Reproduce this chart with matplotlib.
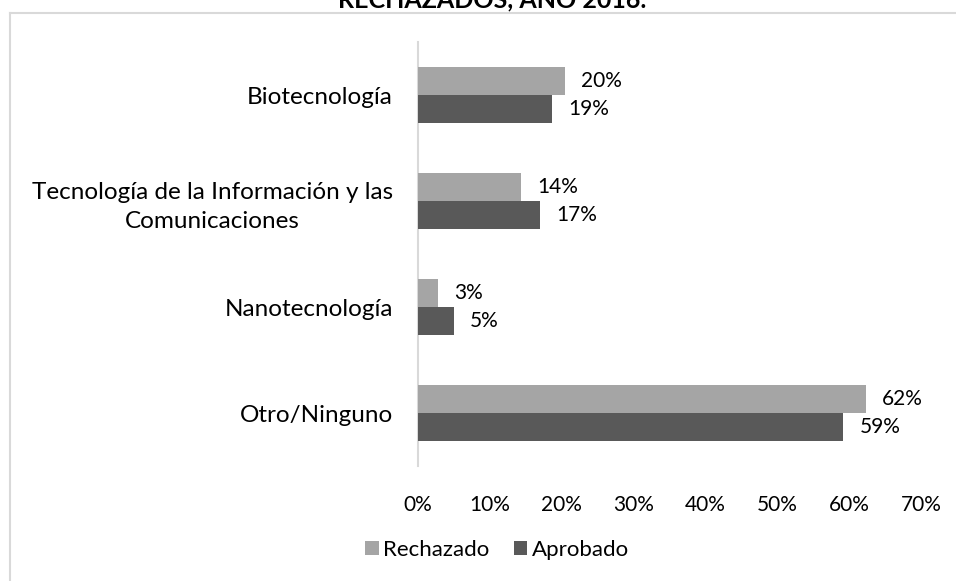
import matplotlib
matplotlib.use('Agg')
import matplotlib.pyplot as plt
from matplotlib.patches import Patch
from matplotlib.lines import Line2D

# ── 資料 ──
categories = ['Biotecnología',
              'Tecnología de la Información y las\nComunicaciones',
              'Nanotecnología',
              'Otro/Ninguno']
rechazado = [20.4, 14.4, 2.8, 62.3]
aprobado  = [18.7, 17.0, 5.0, 59.2]
series_names = ['Rechazado', 'Aprobado']
xticks = [0, 10, 20, 30, 40, 50, 60, 70]
title_tail = 'RECHAZADOS, AÑO 2016.'

# ── 樣式 ──
C_RECH = '#A5A5A5'
C_APRO = '#595959'
BORDER = '#D9D9D9'
plt.rcParams['font.family'] = ['Lato', 'DejaVu Sans']

W, H = 956, 581
fig = plt.figure(figsize=(W / 100, H / 100), dpi=100, facecolor='white')
ax = fig.add_axes([418 / W, 1 - 466 / H, (921 - 418) / W, (466 - 42) / H])

pos = list(range(len(categories)))
bh = 0.26
ax.barh([p - bh / 2 for p in pos], rechazado, height=bh, color=C_RECH, zorder=3)
ax.barh([p + bh / 2 for p in pos], aprobado, height=bh, color=C_APRO, zorder=3)

# 數值標籤
for vals, off in [(rechazado, -bh / 2), (aprobado, bh / 2)]:
    for p, v in zip(pos, vals):
        ax.annotate(f'{v:.0f}%', xy=(v, p + off), xytext=(11.5, 0), textcoords='offset points',
                    ha='left', va='center', fontsize=15, color='#000000')

ax.set_ylim(len(categories) - 0.5, -0.5)
ax.set_yticks(pos)
ax.set_yticklabels(categories, fontsize=17.5, multialignment='center', linespacing=1.5)
ax.set_xlim(0, 70)
ax.set_xticks(xticks)
ax.set_xticklabels([f'{t}%' for t in xticks], fontsize=15)
ax.tick_params(axis='both', length=0, colors='#000000')
ax.tick_params(axis='y', pad=18)
ax.tick_params(axis='x', pad=21)

for s in ['top', 'right', 'bottom']:
    ax.spines[s].set_visible(False)
ax.spines['left'].set_color(BORDER)
ax.spines['left'].set_linewidth(1.5)

# ── 圖例 ──
handles = [Patch(facecolor=C_RECH, label=series_names[0]),
           Patch(facecolor=C_APRO, label=series_names[1])]
fig.legend(handles=handles, loc='center', bbox_to_anchor=(497 / W, 1 - 550 / H),
           ncol=2, frameon=False, fontsize=16, handlelength=0.6, handleheight=0.6,
           handletextpad=0.2, columnspacing=1.1)

# ── 標題（上緣被裁切）與外框 ──
fig.text(492 / W, 1 - 7 / H, title_tail, ha='center', va='baseline',
         fontsize=18, fontweight='bold', color='#000000')
fig.add_artist(Line2D([9.5 / W, 1], [1 - 12.5 / H, 1 - 12.5 / H], color=BORDER, lw=1.5))
fig.add_artist(Line2D([9.5 / W, 9.5 / W], [0, 1 - 12.5 / H], color=BORDER, lw=1.5))

fig.savefig('out.png', dpi=100, facecolor='white')
plt.close('all')
